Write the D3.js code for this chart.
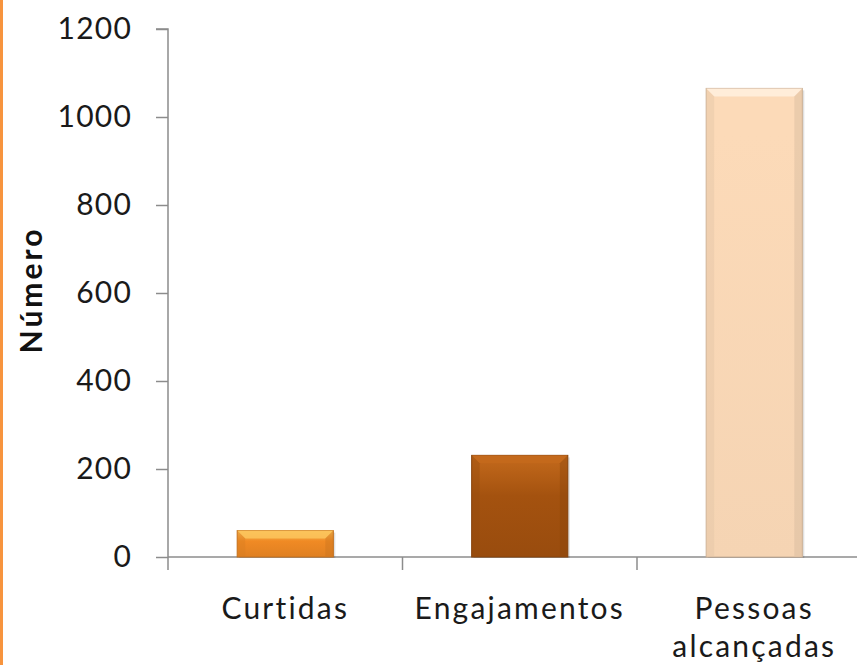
<!DOCTYPE html>
<html><head><meta charset="utf-8">
<script src="https://cdn.jsdelivr.net/npm/d3@7"></script>
<style>body{margin:0;background:#fff}svg{display:block}</style>
</head><body><svg id="c" width="857" height="665"></svg>
<script>
const categories = [["Curtidas"], ["Engajamentos"], ["Pessoas", "alcançadas"]];
const values = [60, 231, 1065];
const yTicks = [0, 200, 400, 600, 800, 1000, 1200];
const yLabel = "Número";
const barColors = ["#f08a24", "#a4520f", "#fcdab8"];
const barLight = ["#fbc45c", "#c46a1c", "#fff0de"];

const svg = d3.select("#c");
const W = 857, H = 665;
svg.append("rect").attr("width", W).attr("height", H).attr("fill", "#fff");
svg.append("rect").attr("x", 0).attr("y", 0).attr("width", 3).attr("height", H).attr("fill", "#f7943e");

const x0 = 168, y0 = 557, yTop = 29;
const x = d3.scaleBand().domain(d3.range(categories.length)).range([x0, x0 + 234.5 * 3]).paddingInner(0.59).paddingOuter(0.295);
const y = d3.scaleLinear().domain([0, 1200]).range([y0, yTop]);

const font = "Lato, 'Open Sans', sans-serif";
const defs = svg.append("defs");
categories.forEach((c, i) => {
  const g = defs.append("linearGradient").attr("id", "g" + i).attr("x1", 0).attr("x2", 0).attr("y1", 0).attr("y2", 1);
  g.append("stop").attr("offset", "0").attr("stop-color", i === 2 ? barColors[i] : barLight[i]);
  g.append("stop").attr("offset", i === 2 ? "0.1" : "0.4").attr("stop-color", barColors[i]);
  g.append("stop").attr("offset", "1").attr("stop-color", d3.color(barColors[i]).darker(i === 2 ? 0.08 : 0.2));
});

// y axis
const ya = svg.append("g").attr("transform", `translate(${x0},0)`)
  .call(d3.axisLeft(y).tickValues(yTicks).tickSize(12).tickPadding(24).tickFormat(d3.format("d")));
ya.select(".domain").attr("stroke", "#8c8c8c").attr("stroke-width", 1.5).attr("d", `M-12,${yTop}H0V${y0}`);
ya.selectAll(".tick line").attr("stroke", "#8c8c8c").attr("stroke-width", 1.5);
ya.selectAll(".tick text").attr("font-family", font).attr("font-size", 30).attr("letter-spacing", 1.2).attr("fill", "#1a1a1a");

// x axis line and ticks
svg.append("line").attr("x1", x0).attr("x2", W).attr("y1", y0).attr("y2", y0).attr("stroke", "#8c8c8c").attr("stroke-width", 1.5);
const step = x.step();
d3.range(categories.length + 1).forEach(i => {
  svg.append("line").attr("x1", x0 + i * step).attr("x2", x0 + i * step).attr("y1", y0).attr("y2", y0 + 13)
    .attr("stroke", "#8c8c8c").attr("stroke-width", 1.5);
});

// bars
values.forEach((v, i) => {
  const bx = x(i), bw = x.bandwidth(), by = y(v), bh = y0 - by;
  const g = svg.append("g");
  g.append("rect").attr("x", bx + 2).attr("y", by + 2).attr("width", bw).attr("height", bh - 1).attr("fill", "#000").attr("opacity", 0.12);
  g.append("rect").attr("x", bx).attr("y", by).attr("width", bw).attr("height", bh).attr("fill", `url(#g${i})`)
    .attr("stroke", d3.color(barColors[i]).darker(0.6)).attr("stroke-width", 1);
  const b = Math.min(8, bh / 3);
  g.append("path").attr("d", `M${bx},${by}H${bx + bw}L${bx + bw - b},${by + b}H${bx + b}Z`).attr("fill", barLight[i]).attr("opacity", 0.85);
  g.append("path").attr("d", `M${bx},${by}L${bx + b},${by + b}V${y0 - 1}H${bx}Z`).attr("fill", d3.color(barColors[i]).darker(0.3)).attr("opacity", 0.4);
  g.append("path").attr("d", `M${bx + bw},${by}L${bx + bw - b},${by + b}V${y0 - 1}H${bx + bw}Z`).attr("fill", d3.color(barColors[i]).darker(0.5)).attr("opacity", 0.4);
});

// category labels
categories.forEach((lines, i) => {
  const t = svg.append("text").attr("x", x(i) + x.bandwidth() / 2).attr("y", 619)
    .attr("text-anchor", "middle").attr("font-family", font).attr("font-size", 30).attr("letter-spacing", 2.2).attr("fill", "#1a1a1a");
  lines.forEach((l, j) => t.append("tspan").attr("x", x(i) + x.bandwidth() / 2).attr("dy", j ? 38 : 0).text(l));
});

svg.append("text").attr("transform", "translate(42,290) rotate(-90)").attr("text-anchor", "middle")
  .attr("font-family", font).attr("font-weight", "bold").attr("font-size", 30).attr("letter-spacing", 3).attr("fill", "#111").text(yLabel);
</script></body></html>
